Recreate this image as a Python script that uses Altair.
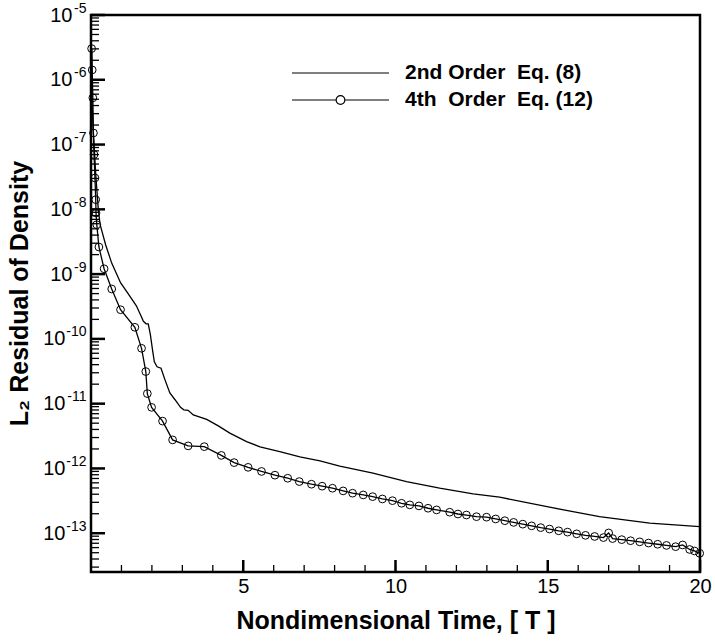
import altair as alt
import pandas as pd

# ---------------- data ----------------
SER2 = "2nd Order\u00a0 Eq. (8)"
SER4 = "4th\u00a0 Order\u00a0 Eq. (12)"

t_2nd = [0.02, 0.03, 0.07, 0.11, 0.16, 0.24, 0.30, 0.48, 0.68, 0.97, 1.28, 1.49,
         1.64, 1.72, 1.81, 1.88, 1.95, 2.02, 2.08, 2.17, 2.30, 2.43, 2.59, 2.76,
         2.94, 3.05, 3.19, 3.36, 3.80, 4.18, 4.56, 5.11, 5.55, 6.20, 6.86, 7.52,
         8.17, 9.26, 10.36, 11.45, 12.55, 13.42, 15.06, 16.70, 18.35, 19.99]
v_2nd = [3.03e-6, 4.94e-7, 1.70e-7, 8.36e-8, 3.23e-8, 9.89e-9, 5.79e-9, 2.84e-9,
         1.48e-9, 7.36e-10, 4.52e-10, 3.24e-10, 2.28e-10, 1.87e-10, 1.71e-10,
         1.71e-10, 1.16e-10, 6.78e-11, 4.43e-11, 3.71e-11, 3.52e-11, 2.33e-11,
         1.46e-11, 1.15e-11, 8.77e-12, 8.02e-12, 7.89e-12, 6.71e-12, 5.73e-12,
         4.54e-12, 3.51e-12, 2.60e-12, 2.15e-12, 1.82e-12, 1.51e-12, 1.31e-12,
         1.09e-12, 8.45e-13, 6.27e-13, 4.95e-13, 4.05e-13, 3.60e-13, 2.52e-13,
         1.80e-13, 1.43e-13, 1.26e-13]

t_4th = [0.02, 0.04, 0.06, 0.08, 0.10, 0.13, 0.155, 0.165, 0.19, 0.26, 0.43, 0.68,
         0.97, 1.44, 1.66, 1.80, 1.85, 1.99, 2.35, 2.68, 3.19, 3.72, 4.28, 4.70,
         5.16, 5.60, 6.04, 6.46, 6.84, 7.24, 7.59, 7.93, 8.28, 8.59, 8.94, 9.25,
         9.57, 9.90, 10.20, 10.47, 10.77, 11.07, 11.35, 11.78, 12.05, 12.33, 12.66,
         12.99, 13.29, 13.59, 13.88, 14.18, 14.47, 14.77, 15.06, 15.36, 15.65,
         15.95, 16.24, 16.54, 16.83, 17.00, 17.13, 17.43, 17.72, 18.02, 18.31,
         18.61, 18.90, 19.20, 19.43, 19.66, 19.82, 19.99]
v_4th = [3.03e-6, 1.42e-6, 5.26e-7, 1.51e-7, 7.00e-8, 3.05e-8, 1.41e-8, 8.79e-9,
         5.79e-9, 2.62e-9, 1.21e-9, 5.90e-10, 2.82e-10, 1.51e-10, 7.16e-11,
         3.13e-11, 1.43e-11, 8.77e-12, 5.38e-12, 2.76e-12, 2.23e-12, 2.17e-12,
         1.59e-12, 1.23e-12, 1.04e-12, 8.99e-13, 7.87e-13, 7.06e-13, 6.27e-13,
         5.71e-13, 5.32e-13, 4.95e-13, 4.50e-13, 4.15e-13, 3.90e-13, 3.67e-13,
         3.38e-13, 3.18e-13, 2.90e-13, 2.74e-13, 2.64e-13, 2.43e-13, 2.29e-13,
         2.11e-13, 1.98e-13, 1.91e-13, 1.80e-13, 1.77e-13, 1.66e-13, 1.56e-13,
         1.47e-13, 1.38e-13, 1.30e-13, 1.22e-13, 1.16e-13, 1.09e-13, 1.04e-13,
         9.78e-14, 9.27e-14, 8.91e-14, 8.57e-14, 1.01e-13, 8.27e-14, 7.96e-14,
         7.66e-14, 7.36e-14, 7.05e-14, 6.76e-14, 6.48e-14, 6.20e-14, 6.59e-14,
         5.61e-14, 5.32e-14, 4.90e-14]

# axis tick positions
y_major = [1e-13, 1e-12, 1e-11, 1e-10, 1e-9, 1e-8, 1e-7, 1e-6, 1e-5]
y_minor = [k * 10.0 ** e for e in range(-14, -5) for k in range(2, 10)
           if k * 10.0 ** e >= 2.6e-14]
x_major = [5, 10, 15, 20]
x_minor = list(range(1, 20))

df = pd.DataFrame({
    "t": t_2nd + t_4th,
    "v": v_2nd + v_4th,
    "series": [SER2] * len(t_2nd) + [SER4] * len(t_4th),
})
df_ymaj = pd.DataFrame({"v": y_major})
df_ymin = pd.DataFrame({"v": y_minor})
df_xmaj = pd.DataFrame({"t": x_major})
df_xmin = pd.DataFrame({"t": x_minor})

FONT = "Liberation Sans"
W, H = 609, 557

x_scale = alt.Scale(domain=[0, 20], nice=False, zero=False)
y_scale = alt.Scale(type="log", domain=[2.52e-14, 1e-5], nice=False)

ax_x = alt.Axis(
    orient="bottom", values=x_major, ticks=False, domain=False, grid=False,
    labelFont=FONT, labelFontSize=20, labelColor="black", labelPadding=4,
    labelFlush=False, labelOverlap=False,
    title="Nondimensional Time, [ T ]", titleFont=FONT, titleFontSize=25,
    titleFontWeight="bold", titleColor="black", titleBaseline="alphabetic",
    titleY=56,
)
ax_y_base = alt.Axis(
    orient="left", values=y_major, ticks=False, domain=False, grid=False,
    labelExpr="'10'", labelFont=FONT, labelFontSize=20, labelColor="black",
    labelAlign="right", labelBaseline="middle", labelFlush=False, labelOverlap=False,
    labelPadding={"condition": {"test": "datum.value < 3e-10", "value": 26}, "value": 19},
    title="L\u2082 Residual of Density", titleFont=FONT, titleFontSize=25,
    titleFontWeight="bold", titleColor="black", titleAngle=270,
    titleBaseline="alphabetic", titleAlign="center", titleX=-64, titleY=278,
)
ax_y_exp = alt.Axis(
    orient="left", values=y_major, ticks=False, domain=False, grid=False,
    labelExpr="'' + round(log(datum.value)/LN10)",
    labelFont=FONT, labelFontSize=14, labelColor="black", labelAlign="right",
    labelBaseline="middle", labelPadding=5, labelOffset=-7, labelFlush=False,
    labelOverlap=False, title=None,
)

PATH_LINE = "M-1,0L1,0"
PATH_CIRC = ("M-1,0L-0.09,0M0.09,0L1,0M0.09,0A0.09,0.09,0,1,1,-0.09,0"
             "A0.09,0.09,0,1,1,0.09,0")
TICK_RIGHT = "M0,0L2,0"   # symbol reaching inward from the left frame
TICK_UP = "M0,0L0,-2"     # symbol reaching inward from the bottom frame

lines = alt.Chart(df).mark_line(color="black", strokeWidth=1.3).encode(
    x=alt.X("t:Q", scale=x_scale, axis=ax_x),
    y=alt.Y("v:Q", scale=y_scale, axis=ax_y_base),
    detail="series:N",
)

points = alt.Chart(df).transform_filter(
    alt.datum.series == SER4
).mark_point(shape="circle", filled=False, color="black", size=60, strokeWidth=1,
             opacity=1).encode(
    x=alt.X("t:Q", scale=x_scale, axis=None),
    y=alt.Y("v:Q", scale=y_scale, axis=ax_y_exp),
)

# inward tick marks as symbols, positioned by the shared scales
ytick_major = alt.Chart(df_ymaj).mark_point(
    shape=TICK_RIGHT, size=196, filled=False, color="black", strokeWidth=2.5, opacity=1
).encode(y=alt.Y("v:Q", scale=y_scale, axis=None), x=alt.value(0))
ytick_minor = alt.Chart(df_ymin).mark_point(
    shape=TICK_RIGHT, size=64, filled=False, color="black", strokeWidth=1.3, opacity=1
).encode(y=alt.Y("v:Q", scale=y_scale, axis=None), x=alt.value(0))
xtick_major = alt.Chart(df_xmaj).mark_point(
    shape=TICK_UP, size=144, filled=False, color="black", strokeWidth=2.5, opacity=1
).encode(x=alt.X("t:Q", scale=x_scale, axis=None), y=alt.value(H))
xtick_minor = alt.Chart(df_xmin).mark_point(
    shape=TICK_UP, size=49, filled=False, color="black", strokeWidth=1.3, opacity=1
).encode(x=alt.X("t:Q", scale=x_scale, axis=None), y=alt.value(H))

legend_layer = alt.Chart(df).transform_filter("false").mark_point(
    filled=False, color="black", strokeWidth=1.2
).encode(
    x=alt.X("t:Q", scale=x_scale, axis=None),
    y=alt.Y("v:Q", scale=y_scale, axis=None),
    shape=alt.Shape(
        "series:N",
        scale=alt.Scale(domain=[SER2, SER4], range=[PATH_LINE, PATH_CIRC]),
        legend=alt.Legend(
            orient="none", legendX=200, legendY=48, title=None,
            symbolSize=9409, symbolStrokeWidth=1.2, symbolStrokeColor="black",
            symbolFillColor="transparent", symbolOpacity=1,
            labelFont=FONT, labelFontSize=21, labelFontWeight="bold",
            labelColor="black", labelOffset=15, rowPadding=6, padding=0,
            clipHeight=20, labelLimit=0,
        ),
    ),
)

chart = alt.layer(
    lines, points, ytick_major, ytick_minor, xtick_major, xtick_minor, legend_layer
).resolve_axis(
    x="independent", y="independent"
).properties(
    width=W, height=H,
    padding={"left": 91, "top": 15, "right": 15, "bottom": 71},
    autosize=alt.AutoSizeParams(type="none"),
).configure_view(
    stroke="black", strokeWidth=2.5
)

chart.save("out.html", embed_options={"renderer": "svg", "actions": False})
